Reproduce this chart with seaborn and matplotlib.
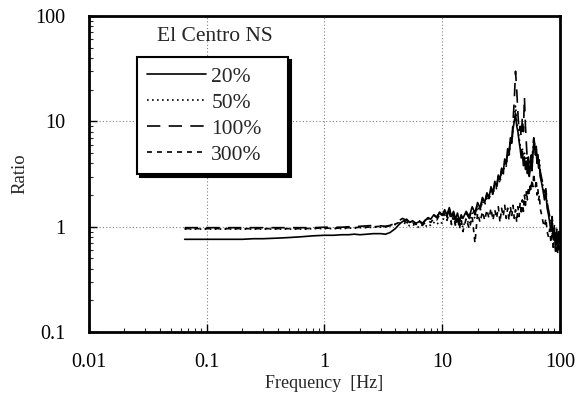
import matplotlib
matplotlib.use("Agg")
import matplotlib.pyplot as plt
import matplotlib.ticker as mticker
import seaborn as sns

# frequency [Hz], shared by all four curves
freq = [0.065, 0.08, 0.1, 0.13, 0.16, 0.2, 0.25, 0.3, 0.4, 0.5,
        0.6, 0.7, 0.8, 1.0, 1.2, 1.4, 1.6, 1.8, 2.0, 2.3,
        2.6, 3.0, 3.3, 3.6, 4.0, 4.3, 4.6, 5.0, 5.3, 5.6,
        6.0, 6.4, 6.8, 7.2, 7.6, 8.0, 8.5, 9.0, 9.5, 10,
        10.5, 11, 11.5, 12, 12.5, 13, 13.5, 14, 14.5, 15,
        16, 17, 18, 19, 20, 21, 22, 23, 24, 25,
        26, 27, 28, 29, 30, 31, 32, 33, 34, 35,
        36, 37, 38, 39, 40, 41, 42, 43, 44, 45,
        46, 47, 48, 49, 50, 51, 52, 53, 54, 55,
        56, 57, 58, 59, 60, 61, 62, 63, 64, 65,
        66, 67, 68, 70, 72, 74, 76, 78, 80, 82,
        84, 86, 88, 90, 92, 94, 96, 98, 100]

ratio_20 = [0.76, 0.76, 0.76, 0.76, 0.76, 0.76, 0.77, 0.77, 0.78, 0.79,
            0.80, 0.81, 0.82, 0.83, 0.83, 0.84, 0.84, 0.85, 0.84, 0.85,
            0.86, 0.86, 0.85, 0.88, 0.96, 1.05, 1.12, 1.18, 1.10, 1.14,
            1.08, 1.12, 1.06, 1.15, 1.22, 1.18, 1.30, 1.24, 1.35, 1.28,
            1.45, 1.30, 1.52, 1.25, 1.40, 1.18, 1.35, 1.12, 1.30, 1.20,
            1.40, 1.25, 1.55, 1.35, 1.70, 1.50, 1.90, 1.70, 2.10, 1.90,
            2.40, 2.10, 2.70, 2.40, 3.10, 2.80, 3.60, 3.30, 4.40, 4.00,
            5.50, 5.00, 7.00, 6.20, 8.50, 10.0, 12.0, 9.00, 8.00, 6.50,
            5.50, 4.50, 5.20, 3.80, 4.60, 3.50, 4.20, 3.20, 3.90, 3.00,
            3.60, 4.20, 3.40, 5.00, 6.20, 5.60, 4.80, 5.20, 4.00, 4.50,
            3.60, 3.90, 3.00, 2.60, 2.20, 1.80, 2.10, 1.50, 1.30, 1.10,
            0.90, 1.10, 0.75, 0.95, 0.65, 0.85, 0.60, 0.80, 0.70]

ratio_50 = [0.95, 0.95, 0.95, 0.95, 0.95, 0.95, 0.95, 0.95, 0.95, 0.95,
            0.95, 0.95, 0.96, 0.96, 0.96, 0.96, 0.97, 0.97, 0.98, 0.98,
            0.99, 0.99, 1.00, 1.02, 1.05, 1.08, 1.10, 1.06, 1.02, 1.05,
            1.02, 0.98, 1.04, 1.00, 1.06, 1.03, 1.10, 1.05, 1.12, 1.08,
            1.30, 1.20, 1.38, 1.10, 1.25, 1.05, 1.22, 1.00, 1.15, 0.98,
            1.20, 1.05, 1.35, 1.20, 1.55, 1.40, 1.75, 1.60, 1.95, 1.80,
            2.20, 2.00, 2.50, 2.30, 2.90, 2.60, 3.40, 3.10, 4.00, 3.70,
            5.00, 4.60, 6.50, 6.00, 9.00, 11.0, 14.0, 10.0, 8.50, 7.00,
            6.00, 5.00, 5.60, 4.20, 5.00, 3.80, 4.50, 3.40, 4.10, 3.20,
            3.80, 4.50, 3.60, 5.40, 6.60, 6.00, 5.00, 5.50, 4.20, 4.80,
            3.80, 4.10, 3.20, 2.80, 2.40, 2.00, 2.20, 1.60, 1.40, 1.20,
            1.00, 1.20, 0.80, 1.00, 0.70, 0.90, 0.65, 0.85, 0.75]

ratio_100 = [0.98, 0.98, 0.98, 0.98, 0.98, 0.98, 0.98, 0.98, 0.98, 0.98,
             0.98, 0.98, 0.98, 0.99, 0.99, 0.99, 1.00, 1.00, 1.01, 1.02,
             1.03, 1.02, 1.01, 1.03, 1.08, 1.14, 1.20, 1.15, 1.10, 1.13,
             1.10, 1.14, 1.08, 1.16, 1.20, 1.15, 1.28, 1.22, 1.38, 1.30,
             1.40, 1.25, 1.48, 1.20, 1.36, 1.14, 1.30, 1.10, 1.26, 1.15,
             1.35, 1.20, 1.50, 1.30, 1.65, 1.45, 1.85, 1.65, 2.05, 1.85,
             2.30, 2.05, 2.60, 2.35, 3.00, 2.70, 3.50, 3.20, 4.20, 3.90,
             5.20, 4.80, 6.80, 6.40, 10.0, 16.0, 30.0, 20.0, 12.0, 8.00,
             9.00, 7.00, 11.0, 8.00, 17.0, 9.00, 6.00, 4.00, 4.60, 3.60,
             4.00, 4.80, 3.80, 5.80, 7.00, 6.20, 5.20, 5.80, 4.40, 5.00,
             4.00, 4.30, 3.40, 2.90, 2.50, 2.10, 2.30, 1.70, 1.45, 1.25,
             1.05, 1.25, 0.85, 1.05, 0.72, 0.95, 0.68, 0.90, 0.78]

ratio_300 = [0.96, 0.96, 0.96, 0.96, 0.96, 0.96, 0.96, 0.96, 0.96, 0.96,
             0.96, 0.96, 0.97, 0.97, 0.97, 0.97, 0.98, 0.98, 0.99, 0.99,
             1.00, 1.01, 1.00, 1.02, 1.06, 1.10, 1.14, 1.10, 1.06, 1.09,
             1.05, 1.08, 1.03, 1.10, 1.14, 1.10, 1.20, 1.16, 1.30, 1.25,
             1.35, 1.15, 1.40, 1.05, 1.30, 1.00, 1.25, 0.95, 1.18, 0.90,
             1.20, 0.95, 1.25, 0.70, 1.35, 1.10, 1.40, 1.15, 1.45, 1.20,
             1.50, 1.15, 1.45, 1.20, 1.55, 1.10, 1.50, 1.25, 1.60, 1.20,
             1.50, 1.15, 1.55, 1.25, 1.60, 1.20, 1.45, 1.10, 1.55, 1.25,
             1.70, 1.30, 1.80, 1.40, 2.00, 1.60, 2.20, 1.80, 2.40, 2.00,
             2.60, 2.20, 2.80, 2.40, 3.20, 2.60, 2.40, 2.80, 2.00, 2.30,
             1.80, 2.00, 1.50, 1.30, 1.10, 1.00, 1.20, 0.90, 0.80, 0.95,
             0.70, 0.90, 0.60, 0.80, 0.55, 0.75, 0.55, 0.70, 0.60]

labels = ["20%", "50%", "100%", "300%"]

sns.set_style("white")
plt.rcParams["font.family"] = ["Liberation Serif", "DejaVu Serif"]

fig = plt.figure(figsize=(5.76, 4.03), dpi=100)
ax = fig.add_axes([0.1545, 0.176, 0.8175, 0.784])

styles = ["-", (0, (1, 2)), (0, (8, 5)), (0, (3, 3))]
for vals, lab, ls in zip([ratio_20, ratio_50, ratio_100, ratio_300], labels, styles):
    sns.lineplot(x=freq, y=vals, ax=ax, color="black", lw=1.2,
                 linestyle=ls, label=lab, estimator=None, sort=False)

ax.set_xscale("log")
ax.set_yscale("log")
ax.set_xlim(0.01, 100)
ax.set_ylim(0.1, 100)

fmt = mticker.FuncFormatter(lambda v, p: "{:g}".format(v))
ax.xaxis.set_major_formatter(fmt)
ax.yaxis.set_major_formatter(fmt)
ax.xaxis.set_minor_formatter(mticker.NullFormatter())
ax.yaxis.set_minor_formatter(mticker.NullFormatter())

ax.grid(True, which="major", color="gray", linestyle=(0, (1, 2)), linewidth=0.8)
ax.tick_params(which="major", direction="in", length=6, width=1,
               left=True, bottom=True, labelsize=14.5, colors="black")
ax.tick_params(which="minor", direction="in", length=3, width=0.8,
               left=True, bottom=True)
ax.tick_params(axis="y", which="major", pad=17)
ax.tick_params(axis="x", which="major", pad=15)

for sp in ax.spines.values():
    sp.set_color("black")
    sp.set_linewidth(2)

ax.set_xlabel("Frequency  [Hz]", fontsize=13, labelpad=2)
ax.set_ylabel("Ratio", fontsize=13.5, labelpad=5)

ax.text(0.2675, 0.934, "El Centro NS", transform=ax.transAxes,
        ha="center", va="center", fontsize=15.5)

leg = ax.legend(loc="upper left", bbox_to_anchor=(0.102, 0.497, 0.3205, 0.373),
                mode="expand", borderaxespad=0, fancybox=False, frameon=True,
                shadow={"color": "black", "alpha": 1},
                fontsize=15.5, handlelength=2.75, handletextpad=0.25,
                labelspacing=0.27, borderpad=0.45)
leg.get_frame().set_edgecolor("black")
leg.get_frame().set_linewidth(1.5)
leg.get_frame().set_alpha(1)

fig.savefig("out.png", dpi=100)
